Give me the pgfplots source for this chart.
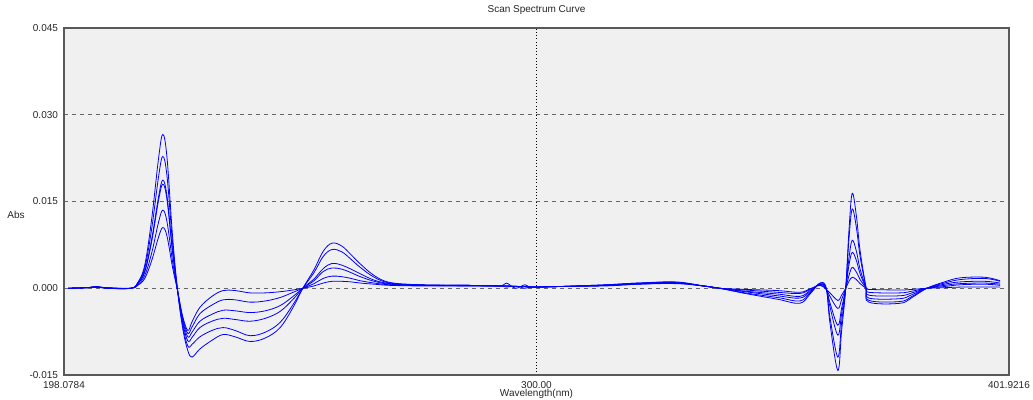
\documentclass[border=0pt]{standalone}
\usepackage{pgfplots}
\pgfplotsset{compat=1.18}
\usepackage{pgfplotstable}
\usepackage{fontspec}
\setmainfont{Liberation Sans}
\definecolor{bgc}{RGB}{240,240,240}
\pgfplotstableread{
x A B C D E F
199.0 0 0 0 0 0 0
203.0 0.0001 0.0001 0.0001 0.0001 0.0001 0.0001
205.2 0.0003 0.0002 0.0002 0.0003 0.0002 0.0002
207.5 0.0000 0.0001 0.0000 0.0000 0.0001 0.0000
212.5 0.0000 0.0000 0.0000 0.0000 0.0000 0.0000
214.0 0.0010 0.0009 0.0008 0.0008 0.0006 0.0005
215.5 0.0040 0.0035 0.0030 0.0028 0.0022 0.0017
217.0 0.0120 0.0103 0.0085 0.0081 0.0061 0.0048
218.5 0.0226 0.0194 0.0159 0.0153 0.0115 0.0089
219.4 0.0266 0.0228 0.0187 0.0180 0.0135 0.0105
220.3 0.0226 0.0194 0.0159 0.0153 0.0115 0.0090
221.5 0.0090 0.0078 0.0064 0.0062 0.0046 0.0036
222.6 -0.0005 -0.0005 -0.0005 -0.0005 -0.0005 -0.0005
223.7 -0.0070 -0.0065 -0.0060 -0.0056 -0.0052 -0.0049
224.8 -0.0108 -0.0100 -0.0091 -0.0084 -0.0078 -0.0073
225.7 -0.0119 -0.0097 -0.0085 -0.0076 -0.0067 -0.0058
227.4 -0.0105 -0.0084 -0.0068 -0.0057 -0.0044 -0.0033
230.0 -0.0090 -0.0073 -0.0057 -0.0045 -0.0029 -0.0014
232.4 -0.0080 -0.0068 -0.0052 -0.0038 -0.0020 -0.0004
235.0 -0.0084 -0.0073 -0.0054 -0.0039 -0.0020 -0.0004
238.2 -0.0092 -0.0082 -0.0057 -0.0042 -0.0024 -0.0008
241.5 -0.0086 -0.0076 -0.0052 -0.0039 -0.0022 -0.0008
244.7 -0.0068 -0.0059 -0.0040 -0.0030 -0.0016 -0.0006
247.5 -0.0033 -0.0028 -0.0019 -0.0014 -0.0007 -0.0003
249.6 0 0 0 0 0 0
252.0 0.0032 0.0027 0.0016 0.0013 0.0008 0.0004
254.0 0.0064 0.0055 0.0034 0.0029 0.0017 0.0009
255.9 0.0078 0.0067 0.0043 0.0035 0.0021 0.0012
258.0 0.0073 0.0063 0.0040 0.0033 0.0020 0.0012
260.0 0.0058 0.0050 0.0033 0.0027 0.0017 0.0011
262.0 0.0042 0.0036 0.0025 0.0020 0.0013 0.0009
265.0 0.0022 0.0019 0.0014 0.0012 0.0009 0.0007
268.4 0.0010 0.0009 0.0008 0.0007 0.0006 0.0005
275.0 0.0006 0.0006 0.0005 0.0005 0.0005 0.0004
285.0 0.0005 0.0005 0.0005 0.0005 0.0004 0.0004
292.0 0.0004 0.0004 0.0004 0.0004 0.0004 0.0004
293.5 0.0004 0.0004 0.0004 0.0009 0.0002 0.0004
295.5 0.0003 0.0003 0.0003 0.0000 0.0004 0.0003
297.5 0.0003 0.0003 0.0003 0.0006 0.0000 0.0003
299.0 0.0002 0.0002 0.0002 0.0002 0.0002 0.0002
305.0 0.0003 0.0003 0.0003 0.0003 0.0003 0.0003
315.0 0.0006 0.0006 0.0005 0.0005 0.0005 0.0004
322.0 0.0009 0.0009 0.0008 0.0008 0.0007 0.0007
330.0 0.0011 0.0010 0.0010 0.0009 0.0009 0.0008
336.0 0.0004 0.0004 0.0004 0.0004 0.0004 0.0004
339.5 0.0000 0.0000 0.0000 0.0000 0.0000 0.0000
345.0 -0.0009 -0.0008 -0.0006 -0.0005 -0.0003 -0.0002
352.0 -0.0019 -0.0016 -0.0013 -0.0010 -0.0007 -0.0004
356.8 -0.0026 -0.0022 -0.0017 -0.0014 -0.0009 -0.0007
359.0 -0.0010 -0.0008 -0.0006 -0.0004 -0.0002 -0.0001
361.2 0.0009 0.0009 0.0008 0.0007 0.0006 0.0005
362.5 0.0000 0.0000 -0.0001 -0.0001 -0.0002 -0.0002
363.3 -0.0060 -0.0050 -0.0032 -0.0025 -0.0014 -0.0008
365.0 -0.0142 -0.0119 -0.0081 -0.0064 -0.0035 -0.0021
365.8 -0.0075 -0.0060 -0.0045 -0.0035 -0.0020 -0.0012
366.7 0 0 0 0 0 0
367.4 0.0100 0.0085 0.0052 0.0040 0.0022 0.0012
368.1 0.0164 0.0137 0.0083 0.0062 0.0036 0.0019
369.0 0.0125 0.0105 0.0064 0.0048 0.0028 0.0015
369.8 0.0065 0.0055 0.0033 0.0025 0.0015 0.0008
371.1 0 0 0 0 0 0
371.7 -0.0024 -0.0021 -0.0017 -0.0012 -0.0007 -0.0002
378.4 -0.0026 -0.0023 -0.0018 -0.0013 -0.0008 -0.0003
381.0 -0.0016 -0.0014 -0.0011 -0.0008 -0.0005 -0.0002
384.2 0 0 0 0 0 0
388.0 0.0011 0.0009 0.0007 0.0005 0.0003 0.0001
391.4 0.0018 0.0015 0.0011 0.0008 0.0006 0.0002
396.7 0.0019 0.0017 0.0012 0.0009 0.0007 0.0002
400.0 0.0013 0.0012 0.0009 0.0007 0.0005 0.0002
}\spec
\pgfplotsset{spec/.style={color=blue, mark=none, line width=0.6pt, smooth, tension=0.6}}
\begin{document}
\begin{tikzpicture}
\begin{axis}[
  scale only axis,
  width=708.75pt, height=260.25pt,
  xmin=198.0784, xmax=401.9216,
  ymin=-0.015, ymax=0.045,
  scaled y ticks=false, scaled x ticks=false,
  axis background/.style={fill=bgc},
  axis line style={black!65, line width=0.9pt},
  xtick={198.0784,300,401.9216},
  xticklabels={198.0784,300.00,401.9216},
  ytick={-0.015,0,0.015,0.030,0.045},
  yticklabels={-0.015,0.000,0.015,0.030,0.045},
  major tick length=0pt,
  tick label style={font=\fontsize{7.5}{9}\selectfont, black!85},
  xticklabel style={yshift=-1pt},
  yticklabel style={xshift=-1pt},
  xmajorgrids, ymajorgrids,
  x grid style={black, dotted, line width=0.7pt},
  y grid style={black!60, dashed, line width=0.7pt},
  title={Scan Spectrum Curve},
  title style={at={(axis description cs:0.5,1.029)}, anchor=center, font=\fontsize{7.5}{9}\selectfont, black!85},
  xlabel={Wavelength(nm)},
  xlabel style={at={(axis description cs:0.5,-0.0548)}, anchor=center, font=\fontsize{7.5}{9}\selectfont, black!85},
  ylabel={Abs},
  ylabel style={at={(axis description cs:-0.0508,0.461)}, rotate=-90, anchor=center, font=\fontsize{7.5}{9}\selectfont, black!85},
  clip=true,
]
\addplot[spec] table[x=x,y=A]{\spec};
\addplot[spec] table[x=x,y=B]{\spec};
\addplot[spec] table[x=x,y=C]{\spec};
\addplot[spec] table[x=x,y=D]{\spec};
\addplot[spec] table[x=x,y=E]{\spec};
\addplot[spec] table[x=x,y=F]{\spec};
\coordinate (bl) at (axis description cs:-0.0677,-0.0692);
\coordinate (tr) at (axis description cs:1.0254,1.0807);
\end{axis}
\pgfresetboundingbox
\path[use as bounding box] (bl) rectangle (tr);
\end{tikzpicture}
\end{document}
